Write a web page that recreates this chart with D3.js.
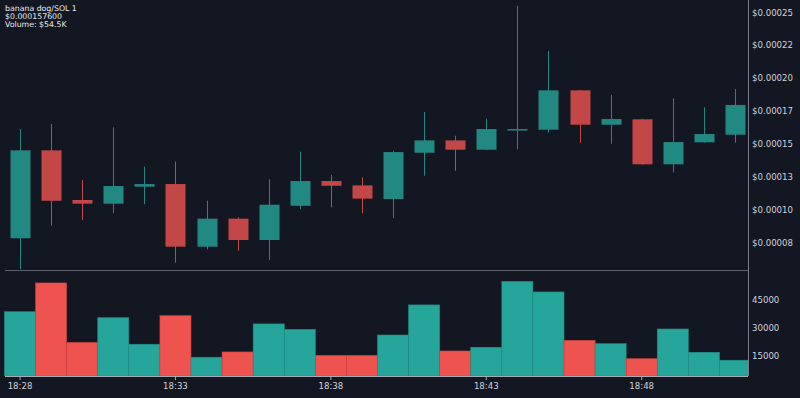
<!DOCTYPE html>
<html>
<head>
<meta charset="utf-8">
<script src="https://cdn.jsdelivr.net/npm/d3@7"></script>
<style>
  html, body { margin: 0; padding: 0; background: #131722; }
  svg { display: block; font-family: "DejaVu Sans", sans-serif; }
</style>
</head>
<body>
<div id="chart"></div>
<script>
// one-minute candles, banana dog/SOL
let times = ["18:28","18:29","18:30","18:31","18:32","18:33","18:34","18:35","18:36","18:37","18:38","18:39",
             "18:40","18:41","18:42","18:43","18:44","18:45","18:46","18:47","18:48","18:49","18:50","18:51"]

let open  = [0.0000783,0.0001451,0.0001074,0.0001046,0.0001175,0.0001195,0.0000719,0.0000932,0.0000770,0.0001030,0.0001218,0.0001185,
             0.0001081,0.0001433,0.0001527,0.0001456,0.0001610,0.0001608,0.0001907,0.0001646,0.0001687,0.0001345,0.0001512,0.0001570]
let high  = [0.0001613,0.0001651,0.0001226,0.0001626,0.0001327,0.0001365,0.0001068,0.0000942,0.0001231,0.0001441,0.0001264,0.0001246,
             0.0001448,0.0001742,0.0001562,0.0001691,0.0002550,0.0002206,0.0001909,0.0001872,0.0001689,0.0001846,0.0001778,0.0001917]
let low   = [0.0000549,0.0000878,0.0000922,0.0000973,0.0001041,0.0000597,0.0000699,0.0000688,0.0000618,0.0001005,0.0001018,0.0000973,
             0.0000937,0.0001258,0.0001296,0.0001453,0.0001459,0.0001585,0.0001509,0.0001501,0.0001343,0.0001284,0.0001510,0.0001509]
let close = [0.0001451,0.0001068,0.0001046,0.0001180,0.0001195,0.0000719,0.0000932,0.0000770,0.0001038,0.0001218,0.0001182,0.0001084,
             0.0001438,0.0001527,0.0001456,0.0001613,0.0001613,0.0001907,0.0001646,0.0001689,0.0001345,0.0001514,0.0001575,0.0001796]

let volume = [38400,53700,22100,35200,21100,36300,14200,17000,31900,29000,15200,15200,
              26000,42000,17500,19500,54500,48900,23200,21400,13400,29200,16800,12600]

let priceTicks  = [0.000075,0.0001,0.000125,0.00015,0.000175,0.0002,0.000225,0.00025]
let priceLabels = ["$0.00008","$0.00010","$0.00013","$0.00015","$0.00017","$0.00020","$0.00022","$0.00025"]
let volTicks = [15000,30000,45000]
let timeTicks = ["18:28","18:33","18:38","18:43","18:48"]

let legend = ["banana dog/SOL 1", "$0.000157600", "Volume: $54.5K"]

let width = 800, height = 398
let plotRight = 748, priceBottom = 270, volBottom = 376

let upCandle = "rgb(34,137,130)", downCandle = "rgb(195,71,71)"
let upVol = "#26a69a", downVol = "#ef5350"

let x = d3.scaleBand().domain(times).range([4.5, 750.5]).padding(0)
let yPrice = d3.scaleLinear().domain([0.0000542, 0.00025935]).range([priceBottom, 0])
let yVol = d3.scaleLinear().domain([4200, 60580]).range([volBottom, priceBottom])

let svg = d3.select('#chart').append('svg')
    .attr("width", width)
    .attr("height", height)

svg.append("rect").attr("width", width).attr("height", height).attr("fill", "#131722")

let defs = svg.append("defs")
defs.append("clipPath").attr("id", "clipPrice")
  .append("rect").attr("x", 0).attr("y", 0).attr("width", plotRight).attr("height", priceBottom)
defs.append("clipPath").attr("id", "clipVol")
  .append("rect").attr("x", 0).attr("y", priceBottom).attr("width", plotRight).attr("height", volBottom - priceBottom)

let candles = times.map((t, i) => ({t: t, o: open[i], h: high[i], l: low[i], c: close[i], v: volume[i]}))

// volume bars
svg.append("g").attr("clip-path", "url(#clipVol)")
  .selectAll("rect").data(candles).enter().append("rect")
    .attr("x", d => x(d.t))
    .attr("width", x.bandwidth())
    .attr("y", d => yVol(d.v))
    .attr("height", d => volBottom - yVol(d.v))
    .attr("fill", d => d.c >= d.o ? upVol : downVol)
    .attr("stroke", d => d.c >= d.o ? "#1f8c82" : "#c9403e")
    .attr("stroke-width", 0.6)

// candles
let bodyW = 20
let cg = svg.append("g").attr("clip-path", "url(#clipPrice)")
let candle = cg.selectAll("g").data(candles).enter().append("g")

candle.append("line")
    .attr("x1", d => Math.round(x(d.t) + x.bandwidth() / 2) + 0.5)
    .attr("x2", d => Math.round(x(d.t) + x.bandwidth() / 2) + 0.5)
    .attr("y1", d => yPrice(d.h))
    .attr("y2", d => yPrice(d.l))
    .attr("stroke", d => d.c >= d.o ? upCandle : downCandle)
    .attr("stroke-width", 1)

candle.append("rect")
    .attr("x", d => Math.round(x(d.t) + x.bandwidth() / 2) + 0.5 - bodyW / 2)
    .attr("width", bodyW)
    .attr("y", d => yPrice(Math.max(d.o, d.c)))
    .attr("height", d => Math.max(1.5, yPrice(Math.min(d.o, d.c)) - yPrice(Math.max(d.o, d.c))))
    .attr("fill", d => d.c >= d.o ? upCandle : downCandle)

// frame lines
svg.append("line").attr("x1", 5).attr("x2", plotRight).attr("y1", priceBottom + 0.5).attr("y2", priceBottom + 0.5)
  .attr("stroke", "#5d606b").attr("stroke-width", 1)
svg.append("line").attr("x1", 5).attr("x2", plotRight).attr("y1", volBottom + 0.5).attr("y2", volBottom + 0.5)
  .attr("stroke", "#a9acb4").attr("stroke-width", 1)
svg.append("line").attr("x1", plotRight + 0.5).attr("x2", plotRight + 0.5).attr("y1", 0).attr("y2", volBottom)
  .attr("stroke", "#787b86").attr("stroke-width", 1)

// price axis
let pAxis = svg.append("g")
    .attr("transform", "translate(" + plotRight + ",0)")
    .call(d3.axisRight(yPrice).tickValues(priceTicks).tickFormat((d, i) => priceLabels[i]).tickSize(0).tickPadding(4))
pAxis.select(".domain").remove()

let vAxis = svg.append("g")
    .attr("transform", "translate(" + plotRight + ",0)")
    .call(d3.axisRight(yVol).tickValues(volTicks).tickFormat(d => d).tickSize(0).tickPadding(4))
vAxis.select(".domain").remove()

let xAxis = svg.append("g")
    .attr("transform", "translate(0," + (volBottom + 1) + ")")
    .call(d3.axisBottom(x).tickValues(timeTicks).tickSize(3).tickPadding(3))
xAxis.select(".domain").remove()
xAxis.selectAll(".tick line").attr("stroke", "#a9acb4")

svg.selectAll(".tick text").attr("fill", "#d1d4dc").style("font-size", "8.6px")
svg.selectAll("g").filter(function() { return this.getAttribute("font-family") }).attr("font-family", null)

// legend
svg.append("g").selectAll("text").data(legend).enter().append("text")
    .attr("x", 5)
    .attr("y", (d, i) => 11 + i * 8.2)
    .attr("fill", "#e8eaef")
    .style("font-size", "7.8px")
    .text(d => d)
</script>
</body>
</html>
